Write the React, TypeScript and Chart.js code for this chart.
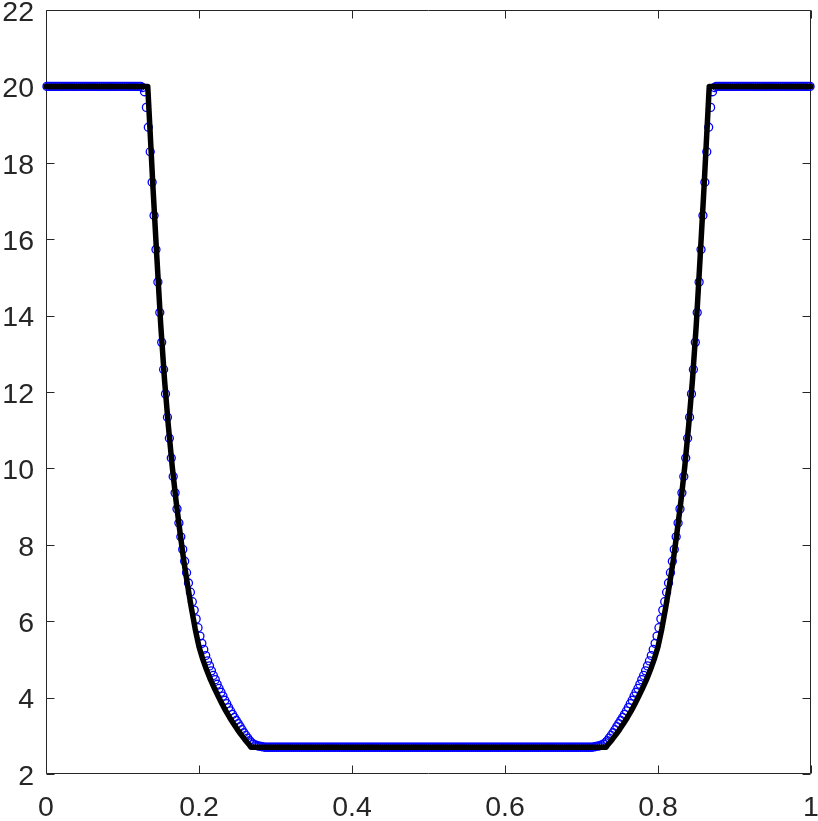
import React, { useEffect, useRef } from "react";
import { Chart, registerables } from "chart.js";

Chart.register(...registerables);

// ---------- axis ticks ----------
const xTickValues = [0, 0.2, 0.4, 0.6, 0.8, 1];
const yTickValues = [2, 4, 6, 8, 10, 12, 14, 16, 18, 20, 22];

// ---------- numerical solution (blue circles), 400 cells ----------
const cellCount = 400;
const leftState = 20;
const middleState = 2.7;
const rightState = 20;
const leftFlatCells = 50;
const middleFlatCells = 168;
const rightFlatCells = 50;

// cells 50..115
const leftFanNumeric = [
  19.97, 19.86, 19.45, 18.93, 18.29, 17.49, 16.62, 15.73, 14.88, 14.08,
  13.3, 12.59, 11.95, 11.34, 10.79, 10.27, 9.79, 9.36, 8.94, 8.57,
  8.21, 7.88, 7.57, 7.27, 7.0, 6.76, 6.51, 6.29, 6.06, 5.83,
  5.61, 5.42, 5.26, 5.1, 4.96, 4.83, 4.7, 4.58, 4.47, 4.35,
  4.24, 4.14, 4.04, 3.93, 3.84, 3.74, 3.65, 3.56, 3.48, 3.4,
  3.32, 3.24, 3.16, 3.08, 3.01, 2.94, 2.87, 2.82, 2.78, 2.76,
  2.74, 2.73, 2.72, 2.71, 2.7, 2.7,
];

// cells 284..349
const rightFanNumeric = [
  2.7, 2.7, 2.71, 2.72, 2.73, 2.74,
  2.76, 2.78, 2.82, 2.87, 2.94, 3.01, 3.08, 3.16, 3.24, 3.32,
  3.4, 3.48, 3.56, 3.65, 3.74, 3.84, 3.93, 4.04, 4.14, 4.24,
  4.35, 4.47, 4.58, 4.7, 4.83, 4.96, 5.1, 5.26, 5.42, 5.61,
  5.83, 6.06, 6.29, 6.51, 6.76, 7.0, 7.27, 7.57, 7.88, 8.21,
  8.57, 8.94, 9.36, 9.79, 10.27, 10.79, 11.34, 11.95, 12.59, 13.3,
  14.08, 14.88, 15.73, 16.62, 17.49, 18.29, 18.93, 19.45, 19.86, 19.97,
];

// ---------- exact solution (black line) ----------
const exactX = [
  0, 0.133, 0.136, 0.14, 0.145, 0.15, 0.155, 0.16, 0.165, 0.17,
  0.175, 0.18, 0.185, 0.19, 0.195, 0.2, 0.205, 0.21, 0.215, 0.22,
  0.225, 0.23, 0.235, 0.24, 0.245, 0.25, 0.255, 0.26, 0.265, 0.268,
  0.732, 0.735, 0.74, 0.745, 0.75, 0.755, 0.76, 0.765, 0.77, 0.775,
  0.78, 0.785, 0.79, 0.795, 0.8, 0.805, 0.81, 0.815, 0.82, 0.825,
  0.83, 0.835, 0.84, 0.845, 0.85, 0.855, 0.86, 0.864, 0.867, 1,
];
const exactY = [
  20, 20, 18.85, 17.3, 15.5, 13.75, 12.3, 11.1, 10.05, 9.15,
  8.35, 7.6, 6.95, 6.35, 5.8, 5.33, 5.0, 4.72, 4.47, 4.25,
  4.04, 3.84, 3.65, 3.48, 3.32, 3.17, 3.03, 2.9, 2.78, 2.7,
  2.7, 2.78, 2.9, 3.03, 3.17, 3.32, 3.48, 3.65, 3.84, 4.04,
  4.25, 4.47, 4.72, 5.0, 5.33, 5.8, 6.35, 6.95, 7.6, 8.35,
  9.15, 10.05, 11.1, 12.3, 13.75, 15.5, 17.3, 18.85, 20, 20,
];

const numericY: number[] = [
  ...new Array(leftFlatCells).fill(leftState),
  ...leftFanNumeric,
  ...new Array(middleFlatCells).fill(middleState),
  ...rightFanNumeric,
  ...new Array(rightFlatCells).fill(rightState),
];

const AXIS_COLOR = "#262626";
const FONT_FAMILY = "'Liberation Sans', Arial, Helvetica, sans-serif";

const frameTicksPlugin = {
  id: "frameTicks",
  beforeDatasetsDraw(chart: any) {
    const { ctx, chartArea, scales } = chart;
    const L = Math.round(chartArea.left) + 0.5;
    const R = Math.round(chartArea.right) - 0.5;
    const T = Math.round(chartArea.top) + 0.5;
    const B = Math.round(chartArea.bottom) - 0.5;
    const len = 8;
    ctx.save();
    ctx.strokeStyle = AXIS_COLOR;
    ctx.lineWidth = 1;
    ctx.beginPath();
    ctx.rect(L, T, R - L, B - T);
    for (const v of xTickValues) {
      const px = Math.round(scales.x.getPixelForValue(v)) + 0.5;
      ctx.moveTo(px, B);
      ctx.lineTo(px, B - len);
      ctx.moveTo(px, T);
      ctx.lineTo(px, T + len);
    }
    for (const v of yTickValues) {
      const py = Math.round(scales.y.getPixelForValue(v)) + 0.5;
      ctx.moveTo(L, py);
      ctx.lineTo(L + len, py);
      ctx.moveTo(R, py);
      ctx.lineTo(R - len, py);
    }
    ctx.stroke();
    ctx.restore();
  },
};

const zeroScalePadding = (s: any) => {
  s.paddingTop = 0;
  s.paddingBottom = 0;
  s.paddingLeft = 0;
  s.paddingRight = 0;
};

export default function App() {
  const canvasRef = useRef<HTMLCanvasElement | null>(null);

  useEffect(() => {
    const canvas = canvasRef.current;
    if (!canvas) return;

    const numericPoints = numericY.map((y, i) => ({ x: (i + 0.5) / cellCount, y }));
    const exactPoints = exactX.map((x, i) => ({ x, y: exactY[i] }));

    const chart = new Chart(canvas, {
      type: "scatter",
      data: {
        datasets: [
          {
            label: "exact",
            data: exactPoints,
            showLine: true,
            borderColor: "#000000",
            borderWidth: 5.5,
            borderJoinStyle: "round",
            borderCapStyle: "round",
            pointRadius: 0,
            tension: 0,
            clip: false,
          } as any,
          {
            label: "numerical",
            data: numericPoints,
            showLine: false,
            pointStyle: "circle",
            pointRadius: 4,
            pointBorderWidth: 1.3,
            pointBorderColor: "#0000ff",
            pointBackgroundColor: "rgba(0,0,0,0)",
            clip: false,
          } as any,
        ],
      },
      options: {
        responsive: false,
        animation: false,
        devicePixelRatio: 1,
        events: [],
        layout: { padding: { top: 10, right: 7, left: 0, bottom: 0 } },
        plugins: { legend: { display: false }, tooltip: { enabled: false } },
        scales: {
          x: {
            type: "linear",
            min: 0,
            max: 1,
            grid: { display: false, drawTicks: false },
            border: { display: false },
            afterBuildTicks: (s: any) => {
              s.ticks = xTickValues.map((v) => ({ value: v }));
            },
            afterFit: (s: any) => {
              s.height = 47;
              zeroScalePadding(s);
            },
            ticks: {
              autoSkip: false,
              maxRotation: 0,
              padding: 17,
              color: AXIS_COLOR,
              font: { family: FONT_FAMILY, size: 28.5 },
              callback: (v: any) => String(v),
            },
          },
          y: {
            type: "linear",
            min: 2,
            max: 22,
            grid: { display: false, drawTicks: false },
            border: { display: false },
            afterBuildTicks: (s: any) => {
              s.ticks = yTickValues.map((v) => ({ value: v }));
            },
            afterFit: (s: any) => {
              s.width = 46;
              zeroScalePadding(s);
            },
            ticks: {
              autoSkip: false,
              padding: 12,
              labelOffset: 3,
              color: AXIS_COLOR,
              font: { family: FONT_FAMILY, size: 28.5 },
              callback: (v: any) => String(v),
            },
          },
        },
      },
      plugins: [frameTicksPlugin],
    });

    return () => chart.destroy();
  }, []);

  return (
    <div
      style={{
        position: "fixed",
        left: 0,
        top: 0,
        width: 818,
        height: 821,
        background: "#ffffff",
      }}
    >
      <canvas ref={canvasRef} width={818} height={821} style={{ width: 818, height: 821 }} />
    </div>
  );
}
